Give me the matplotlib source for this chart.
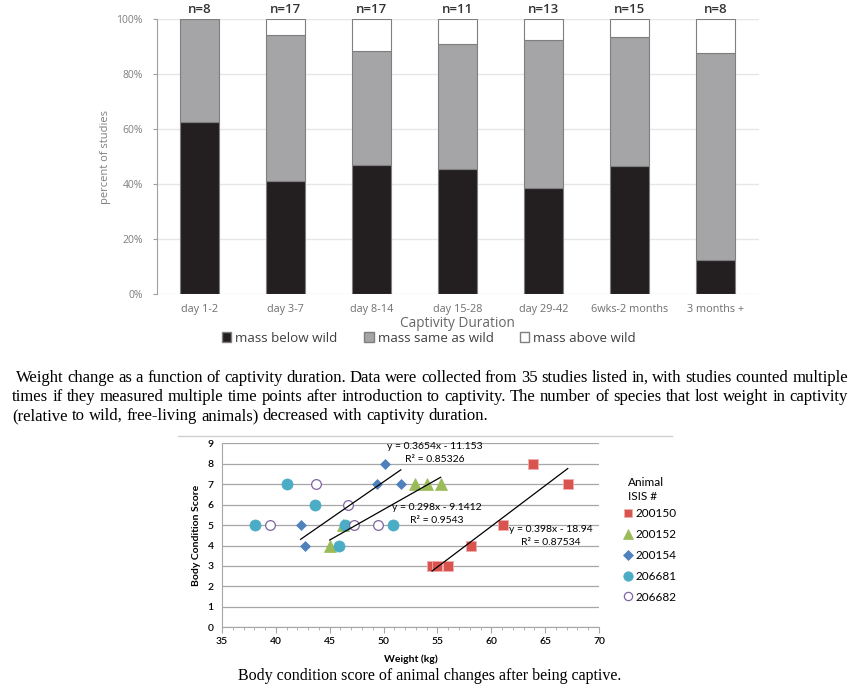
import numpy as np
import matplotlib.pyplot as plt
from matplotlib.patches import Patch
from matplotlib.lines import Line2D

# top chart: number of studies per captivity duration
categories = ['day 1-2', 'day 3-7', 'day 8-14', 'day 15-28', 'day 29-42', '6wks-2 months', '3 months +']
below = np.array([5, 7, 8, 5, 5, 7, 1])
same = np.array([3, 9, 7, 5, 7, 7, 6])
above = np.array([0, 1, 2, 1, 1, 1, 1])

# bottom chart: body condition score vs weight, per animal
animals = ['200150', '200152', '200154', '206681', '206682']
x_200150 = [54.5, 55.0, 56.0, 58.1, 61.1, 63.9, 67.1]
y_200150 = [3, 3, 3, 4, 5, 8, 7]
x_200152 = [45.0, 46.2, 52.9, 54.0, 55.3]
y_200152 = [4, 5, 7, 7, 7]
x_200154 = [42.3, 42.7, 49.4, 50.1, 51.6]
y_200154 = [5, 4, 7, 8, 7]
x_206681 = [38.1, 41.0, 43.6, 45.9, 46.4, 50.9]
y_206681 = [5, 7, 6, 4, 5, 5]
x_206682 = [39.5, 43.7, 46.7, 47.3, 49.5]
y_206682 = [5, 7, 6, 5, 5]

# excel trendlines shown on the chart
trend_series = ['200154', '200152', '200150']
slopes = [0.3654, 0.298, 0.398]
intercepts = [-11.153, -9.1412, -18.94]
r2_text = ['0.85326', '0.9543', '0.87534']

caption1 = ["Weight change as a function of captivity duration. Data were collected from 35 studies listed in, with studies counted multiple",
            "times if they measured multiple time points after introduction to captivity. The number of species that lost weight in captivity",
            "(relative to wild, free-living animals) decreased with captivity duration."]
caption2 = "Body condition score of animal changes after being captive."

W, H = 857, 690
fig = plt.figure(figsize=(W / 100, H / 100), dpi=100)

# ---------------- stacked bars ----------------
top_font = 'Open Sans'
ax1 = fig.add_axes([156.7 / W, 1 - 294 / H, 602 / W, 275 / H])
n = below + same + above
p_below = below / n * 100
p_same = same / n * 100
p_above = above / n * 100
xpos = np.arange(len(categories))
bw = 0.455
ec = '#7f7f7f'
ax1.bar(xpos, p_below, bw, color='#231f20', edgecolor=ec, linewidth=0.8, zorder=3)
ax1.bar(xpos, p_same, bw, bottom=p_below, color='#a5a5a8', edgecolor=ec, linewidth=0.8, zorder=3)
ax1.bar(xpos, p_above, bw, bottom=p_below + p_same, color='white', edgecolor=ec, linewidth=0.8, zorder=3)
for i in range(len(categories)):
    ax1.annotate('n=' + str(n[i]), (xpos[i], 100), xytext=(0, 2), textcoords='offset points',
                 ha='center', va='bottom', fontsize=9.5, color='#333333', family=top_font,
                 fontweight='semibold')
ax1.set_xlim(-0.5, len(categories) - 0.5)
ax1.set_ylim(0, 100)
ax1.set_yticks(np.arange(0, 101, 20))
ax1.set_yticklabels([str(v) + '%' for v in range(0, 101, 20)])
ax1.yaxis.grid(True, color='#e6e6e6', linewidth=1, zorder=0)
ax1.set_xticks(xpos)
ax1.set_xticklabels(categories)
for s in ['top', 'right', 'bottom']:
    ax1.spines[s].set_visible(False)
ax1.spines['left'].set_color('#a0a0a0')
ax1.tick_params(axis='y', length=3, color='#a0a0a0', labelsize=7.5, labelcolor='#7f7f7f', pad=7)
ax1.tick_params(axis='x', length=0, labelsize=7.8, labelcolor='#6f6f6f', pad=7)
for t in ax1.get_xticklabels() + ax1.get_yticklabels():
    t.set_family(top_font)
ax1.set_ylabel('percent of studies', fontsize=8, color='#7f7f7f', family=top_font, labelpad=4)
ax1.set_xlabel('Captivity Duration', fontsize=9.8, color='#666666', family=top_font, labelpad=1)
handles = [Patch(facecolor='#231f20', edgecolor=ec), Patch(facecolor='#a5a5a8', edgecolor=ec),
           Patch(facecolor='white', edgecolor=ec)]
fig.legend(handles, ['mass below wild', 'mass same as wild', 'mass above wild'], ncol=3,
           loc='center', bbox_to_anchor=(429 / W, 1 - 338 / H), frameon=False,
           prop={'family': top_font, 'size': 9.6}, handlelength=0.7, handleheight=0.7,
           handletextpad=0.3, columnspacing=2.0, labelcolor='#404040')


# ---------------- captions ----------------
def place_line(text, x0, x1, y, size, justify):
    words = text.split()
    objs = [fig.text(0, 1 - y / H, w, fontsize=size, family='Liberation Serif', va='baseline') for w in words]
    r = fig.canvas.get_renderer()
    widths = [o.get_window_extent(r).width for o in objs]
    if justify:
        gap = (x1 - x0 - sum(widths)) / (len(words) - 1)
    else:
        gap = size * 0.25 * 100 / 72
    x = x0
    for o, w in zip(objs, widths):
        o.set_x(x / W)
        x += w + gap


place_line(caption1[0], 16, 848, 382, 12, True)
place_line(caption1[1], 12, 848, 401, 12, True)
place_line(caption1[2], 12, 848, 420, 12, False)
fig.text(430 / W, 1 - 680 / H, caption2, fontsize=11.5, family='Liberation Serif', ha='center', va='baseline')

fig.add_artist(Line2D([178 / W, 672 / W], [1 - 436 / H, 1 - 436 / H], color='#d0d0d0', linewidth=1))

# ---------------- scatter ----------------
bot_font = 'Lato'
ax2 = fig.add_axes([222 / W, 1 - 627.3 / H, 377 / W, 184 / H])
xs = {'200150': x_200150, '200152': x_200152, '200154': x_200154, '206681': x_206681, '206682': x_206682}
ys = {'200150': y_200150, '200152': y_200152, '200154': y_200154, '206681': y_206681, '206682': y_206682}
styles = {
    '200150': dict(marker='s', ms=7.5, mfc='#d9534f', mec='#f0b0ad', mew=0.6),
    '200152': dict(marker='^', ms=8, mfc='#9bbb59', mec='#9bbb59', mew=0.5),
    '200154': dict(marker='D', ms=5.5, mfc='#4f81bd', mec='#4f81bd', mew=0.5),
    '206681': dict(marker='o', ms=8, mfc='#4bacc6', mec='#4bacc6', mew=0.5),
    '206682': dict(marker='o', ms=7, mfc='white', mec='#8064a2', mew=0.9),
}
for a in animals:
    ax2.plot(xs[a], ys[a], linestyle='none', label=a, zorder=3, **styles[a])

label_pos = [(54.75, 8.84, 8.2), (54.95, 5.85, 5.21), (65.55, 4.77, 4.15)]
for k, a in enumerate(trend_series):
    tx = np.array([min(xs[a]), max(xs[a])])
    ax2.plot(tx, slopes[k] * tx + intercepts[k], color='black', linewidth=0.9, zorder=4)
    lx, ly1, ly2 = label_pos[k]
    ax2.text(lx, ly1, 'y = %sx - %s' % (slopes[k], -intercepts[k]), ha='center', va='center',
             fontsize=7.5, family=bot_font, zorder=5)
    ax2.text(lx, ly2, 'R\u00b2 = ' + r2_text[k], ha='center', va='center', fontsize=7.5,
             family=bot_font, zorder=5)

ax2.set_xlim(35, 70)
ax2.set_ylim(0, 9)
ax2.set_xticks(range(35, 71, 5))
ax2.set_xticks(range(35, 71), minor=True)
ax2.set_yticks(range(0, 10))
ax2.yaxis.grid(True, color='#a6a6a6', linewidth=0.9, zorder=0)
for s in ['top', 'right']:
    ax2.spines[s].set_visible(False)
ax2.spines['left'].set_color('#a6a6a6')
ax2.spines['bottom'].set_color('#a6a6a6')
ax2.tick_params(axis='both', which='both', color='#a6a6a6', labelsize=7.5)
ax2.tick_params(axis='x', which='major', length=4, pad=3)
ax2.tick_params(axis='x', which='minor', length=2.5)
ax2.tick_params(axis='y', length=0, pad=6)
for t in ax2.get_xticklabels() + ax2.get_yticklabels():
    t.set_family(bot_font)
    t.set_fontweight('semibold')
ax2.set_xlabel('Weight (kg)', fontsize=7.5, fontweight='bold', family=bot_font, labelpad=6)
ax2.set_ylabel('Body Condition Score', fontsize=7.5, fontweight='bold', family=bot_font, labelpad=5)
leg = ax2.legend(loc='upper left', bbox_to_anchor=(619 / W, 1 - 502 / H), bbox_transform=fig.transFigure,
                 frameon=False, prop={'family': bot_font, 'size': 8.5},
                 handlelength=0.6, handletextpad=0.3, labelspacing=0.84, borderpad=0,
                 markerscale=0.85)
fig.text(628 / W, 1 - 483 / H, 'Animal', fontsize=8.5, family=bot_font, va='center')
fig.text(628 / W, 1 - 497 / H, 'ISIS #', fontsize=8.5, family=bot_font, va='center')

fig.savefig('out.png', dpi=100)
